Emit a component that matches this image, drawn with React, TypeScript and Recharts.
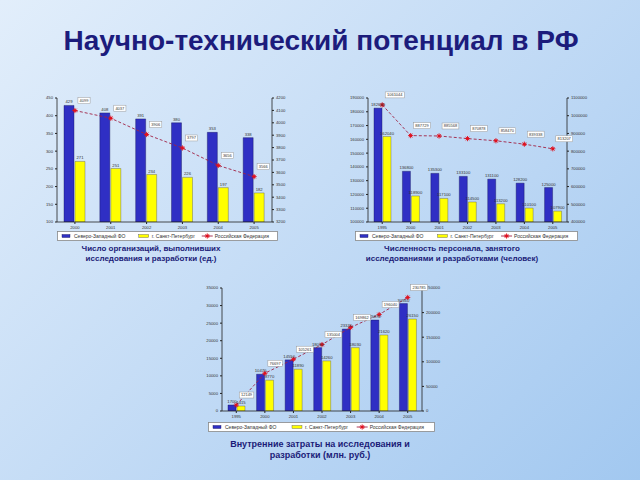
import React from 'react';
import { ComposedChart, Bar, Line, XAxis, YAxis, LabelList } from 'recharts';

// Число организаций, выполнявших исследования и разработки (ед.)
const orgYears = ['2000', '2001', '2002', '2003', '2004', '2005'];
const orgNwfd = [429, 408, 391, 380, 353, 338];
const orgSpb = [271, 251, 234, 226, 197, 182];
const orgRf = [4099, 4037, 3906, 3797, 3656, 3566];
const orgLeftTicks = [100, 150, 200, 250, 300, 350, 400, 450];
const orgRightTicks = [3200, 3300, 3400, 3500, 3600, 3700, 3800, 3900, 4000, 4100, 4200];

// Численность персонала (человек)
const staffYears = ['1995', '2000', '2001', '2002', '2003', '2004', '2005'];
const staffNwfd = [182640, 136800, 135300, 133100, 131100, 128200, 125000];
const staffSpb = [162040, 118900, 117100, 114500, 113200, 110100, 107900];
const staffRf = [1061044, 887729, 885568, 870878, 858470, 839338, 813207];
const staffLeftTicks = [100000, 110000, 120000, 130000, 140000, 150000, 160000, 170000, 180000, 190000];
const staffRightTicks = [400000, 500000, 600000, 700000, 800000, 900000, 1000000, 1100000];

// Внутренние затраты (млн. руб.)
const costYears = ['1995', '2000', '2001', '2002', '2003', '2004', '2005'];
const costNwfd = [1700, 10470, 14550, 18030, 23320, 25870, 30560];
const costSpb = [1415, 8770, 11890, 14260, 18030, 21620, 26150];
const costRf = [12149, 76697, 105261, 135004, 169862, 196040, 230785];
const costLeftTicks = [0, 5000, 10000, 15000, 20000, 25000, 30000, 35000];
const costRightTicks = [0, 50000, 100000, 150000, 200000, 250000];

const legendNames = ['Северо-Западный ФО', 'г. Санкт-Петербург', 'Российская Федерация'];

const BLUE = '#2f2fc4';
const YELLOW = '#ffff00';
const RED = '#e0101e';
const FONT = '"Liberation Sans", Arial, sans-serif';
const tickStyle = { fontSize: 4.2, fill: '#333', fontFamily: FONT };

const RfDot = (props: any) => {
  const { cx, cy, index } = props;
  if (cx == null || cy == null) return null;
  const r = 2.6;
  return (
    <g key={`dot-${index}`}>
      <path
        d={`M${cx - r},${cy}H${cx + r}M${cx},${cy - r}V${cy + r}M${cx - 1.8},${cy - 1.8}L${cx + 1.8},${cy + 1.8}M${cx - 1.8},${cy + 1.8}L${cx + 1.8},${cy - 1.8}`}
        stroke={RED}
        strokeWidth={0.9}
      />
      <circle cx={cx} cy={cy} r={1.3} fill={RED} />
    </g>
  );
};

const RfLabel = (props: any) => {
  const { x, y, value } = props;
  const text = String(value);
  const w = text.length * 2.3 + 3;
  return (
    <g>
      <rect x={x + 3} y={y - 13} width={w} height={6} fill="#fff" stroke="#999" strokeWidth={0.5} />
      <text x={x + 3 + w / 2} y={y - 8.6} fontSize={4} textAnchor="middle" fill="#333" fontFamily={FONT}>
        {text}
      </text>
    </g>
  );
};

type PanelProps = {
  left: number;
  top: number;
  width: number;
  height: number;
  years: string[];
  nwfd: number[];
  spb: number[];
  rf: number[];
  leftTicks: number[];
  rightTicks: number[];
  leftWidth: number;
  rightWidth: number;
  marginTop: number;
  barSize: number;
};

const Panel = (p: PanelProps) => {
  const data = p.years.map((year, i) => ({ year, nwfd: p.nwfd[i], spb: p.spb[i], rf: p.rf[i] }));
  return (
    <div style={{ position: 'absolute', left: p.left, top: p.top }}>
      <ComposedChart
        width={p.width}
        height={p.height}
        data={data}
        margin={{ top: p.marginTop, right: 0, bottom: 0, left: 0 }}
        barGap={1}
      >
        <XAxis
          dataKey="year"
          height={12}
          tick={tickStyle}
          tickSize={2}
          axisLine={{ stroke: '#222', strokeWidth: 0.8 }}
          tickLine={{ stroke: '#222' }}
          interval={0}
        />
        <YAxis
          yAxisId="left"
          width={p.leftWidth}
          domain={[p.leftTicks[0], p.leftTicks[p.leftTicks.length - 1]]}
          ticks={p.leftTicks}
          tick={tickStyle}
          tickSize={2}
          axisLine={{ stroke: '#222', strokeWidth: 0.8 }}
          tickLine={{ stroke: '#222' }}
          allowDataOverflow
        />
        <YAxis
          yAxisId="right"
          orientation="right"
          width={p.rightWidth}
          domain={[p.rightTicks[0], p.rightTicks[p.rightTicks.length - 1]]}
          ticks={p.rightTicks}
          tick={tickStyle}
          tickSize={2}
          axisLine={{ stroke: '#222', strokeWidth: 0.8 }}
          tickLine={{ stroke: '#222' }}
          allowDataOverflow
        />
        <Bar yAxisId="left" dataKey="nwfd" fill={BLUE} stroke="#14145a" strokeWidth={0.4} barSize={p.barSize} isAnimationActive={false}>
          <LabelList dataKey="nwfd" position="top" offset={2} style={tickStyle} />
        </Bar>
        <Bar yAxisId="left" dataKey="spb" fill={YELLOW} stroke="#555" strokeWidth={0.4} barSize={p.barSize} isAnimationActive={false}>
          <LabelList dataKey="spb" position="top" offset={2} style={tickStyle} />
        </Bar>
        <Line
          yAxisId="right"
          dataKey="rf"
          stroke="#a02345"
          strokeWidth={0.9}
          strokeDasharray="3 2"
          dot={RfDot}
          isAnimationActive={false}
        >
          <LabelList dataKey="rf" content={RfLabel} />
        </Line>
      </ComposedChart>
    </div>
  );
};

const LegendBox = ({ left, top, width }: { left: number; top: number; width: number }) => (
  <svg style={{ position: 'absolute', left, top }} width={width} height={10}>
    <rect x={0.5} y={0.5} width={width - 1} height={9} fill="#fff" stroke="#888" strokeWidth={0.8} />
    <rect x={5} y={3.5} width={8} height={3} fill={BLUE} stroke="#14145a" strokeWidth={0.4} />
    <text x={17} y={6.9} fontSize={5} fill="#333" fontFamily={FONT}>{legendNames[0]}</text>
    <rect x={width * 0.37} y={3.5} width={10} height={3} fill={YELLOW} stroke="#555" strokeWidth={0.4} />
    <text x={width * 0.37 + 13} y={6.9} fontSize={5} fill="#333" fontFamily={FONT}>{legendNames[1]}</text>
    <line x1={width * 0.655} x2={width * 0.655 + 11} y1={5} y2={5} stroke="#a02345" strokeWidth={0.9} />
    <RfDot cx={width * 0.655 + 5.5} cy={5} index={0} />
    <text x={width * 0.655 + 13} y={6.9} fontSize={5} fill="#333" fontFamily={FONT}>{legendNames[2]}</text>
  </svg>
);

const Caption = ({ center, top, lines, size }: { center: number; top: number; lines: string[]; size: number }) => (
  <div
    style={{
      position: 'absolute',
      left: center - 150,
      top,
      width: 300,
      textAlign: 'center',
      fontFamily: FONT,
      fontSize: size,
      lineHeight: `${size + 2}px`,
      fontWeight: 'bold',
      color: '#1b1b78',
    }}
  >
    {lines.map((l) => (
      <div key={l}>{l}</div>
    ))}
  </div>
);

export default function App() {
  return (
    <div
      style={{
        position: 'absolute',
        left: 0,
        top: 0,
        width: 640,
        height: 480,
        overflow: 'hidden',
        background: 'linear-gradient(135deg, #e2eefb 0%, #c6ddf6 45%, #a2c8f0 100%)',
      }}
    >
      <div
        style={{
          position: 'absolute',
          left: 0,
          top: 27,
          width: 642,
          textAlign: 'center',
          fontFamily: FONT,
          fontSize: 28,
          lineHeight: '28px',
          fontWeight: 'bold',
          color: '#1c1c7c',
        }}
      >
        Научно-технический потенциал в РФ
      </div>

      <Panel
        left={20}
        top={90}
        width={290}
        height={144}
        years={orgYears}
        nwfd={orgNwfd}
        spb={orgSpb}
        rf={orgRf}
        leftTicks={orgLeftTicks}
        rightTicks={orgRightTicks}
        leftWidth={37}
        rightWidth={38}
        marginTop={8}
        barSize={10}
      />
      <LegendBox left={57} top={231} width={221} />
      <Caption center={151} top={244} lines={['Число организаций, выполнивших', 'исследования и разработки (ед.)']} size={8} />

      <Panel
        left={320}
        top={90}
        width={290}
        height={144}
        years={staffYears}
        nwfd={staffNwfd}
        spb={staffSpb}
        rf={staffRf}
        leftTicks={staffLeftTicks}
        rightTicks={staffRightTicks}
        leftWidth={48}
        rightWidth={43}
        marginTop={8}
        barSize={8}
      />
      <LegendBox left={355} top={231} width={223} />
      <Caption center={452} top={244} lines={['Численность персонала, занятого', 'исследованиями и разработками (человек)']} size={8} />

      <Panel
        left={180}
        top={280}
        width={290}
        height={143}
        years={costYears}
        nwfd={costNwfd}
        spb={costSpb}
        rf={costRf}
        leftTicks={costLeftTicks}
        rightTicks={costRightTicks}
        leftWidth={42}
        rightWidth={48}
        marginTop={8}
        barSize={8}
      />
      <LegendBox left={208} top={422} width={227} />
      <Caption center={320} top={439} lines={['Внутренние затраты на исследования и', 'разработки (млн. руб.)']} size={9} />
    </div>
  );
}
